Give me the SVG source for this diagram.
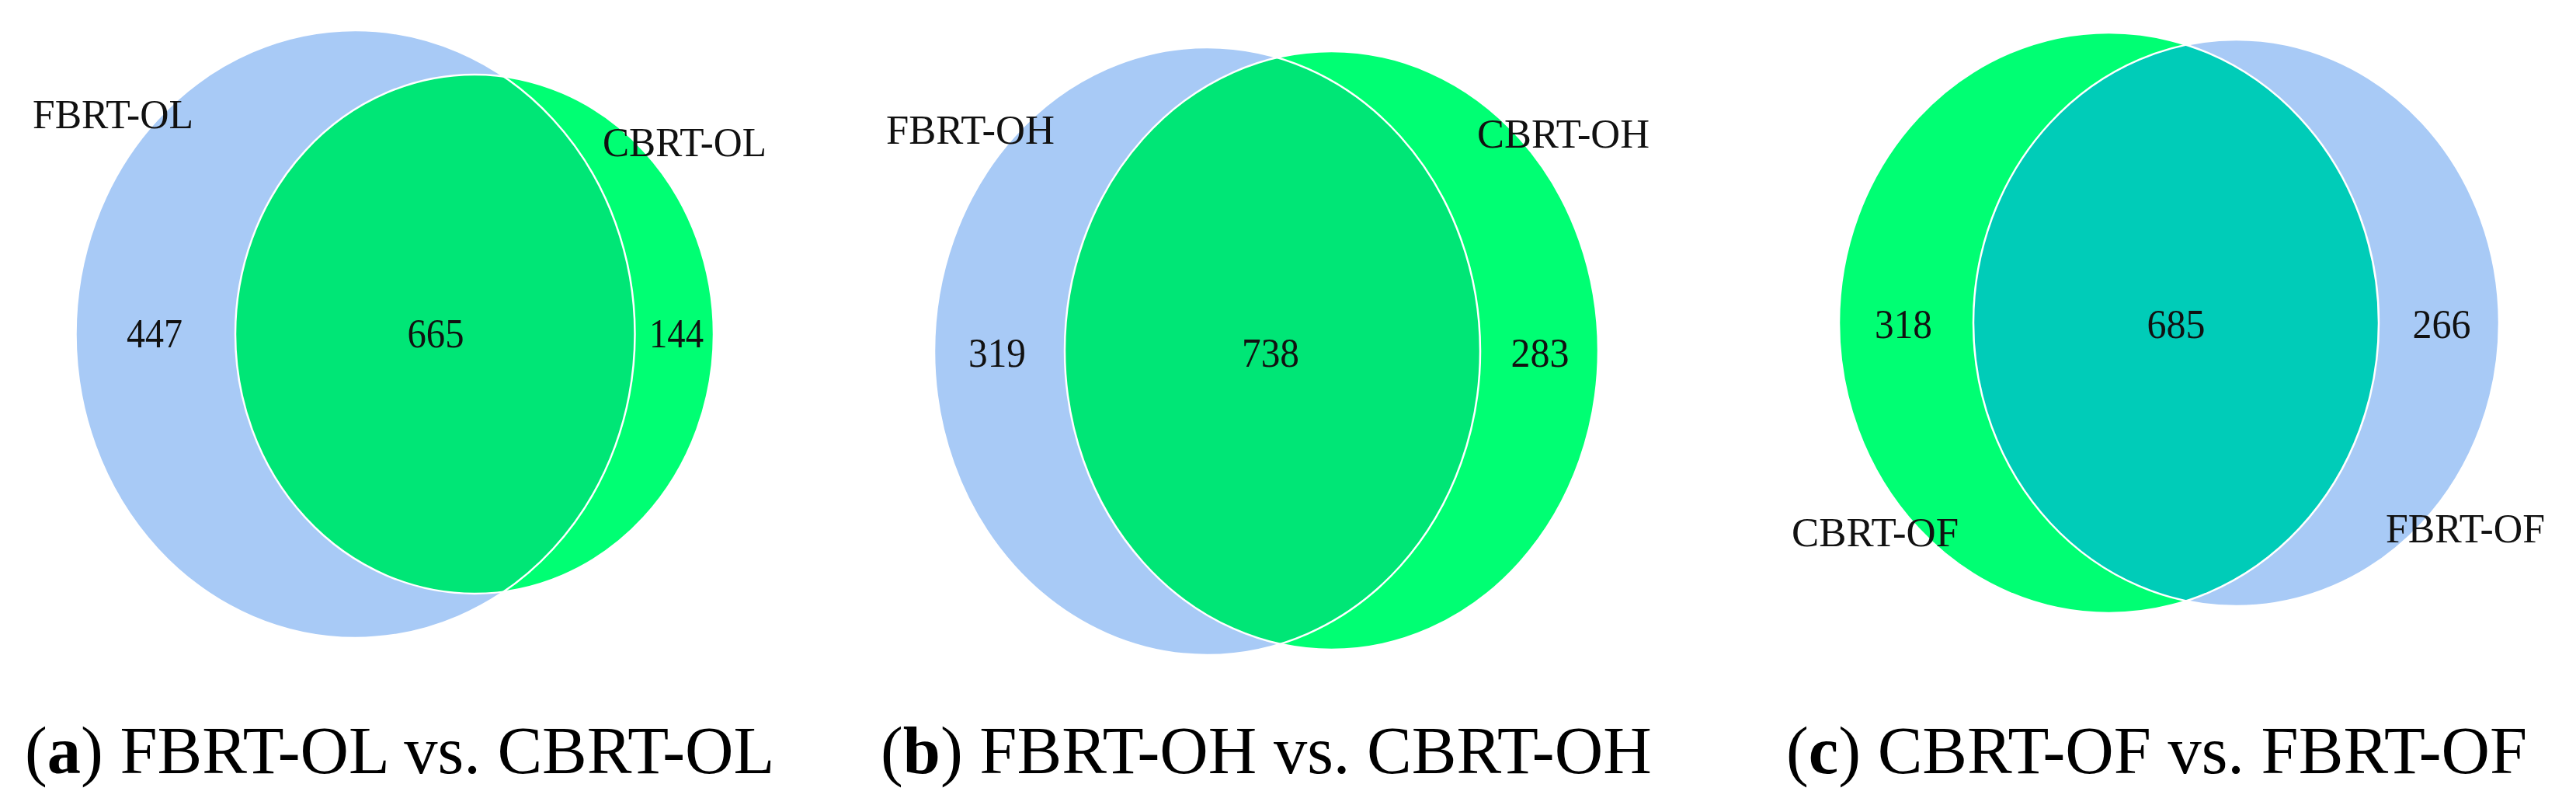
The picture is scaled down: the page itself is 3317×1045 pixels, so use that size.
<svg xmlns="http://www.w3.org/2000/svg" width="3317" height="1045" viewBox="0 0 3317 1045">
<style>
.blue{fill:#A8CAF6}
.green{fill:#00FF73}
.inter{fill:#00E676}
.teal{fill:#00CCB8}
.edge{fill:none;stroke:#FFFFFF;stroke-width:2.5}
.lbl{font-family:"Liberation Serif","Times New Roman",serif;font-size:53px;fill:#111111}
.num{font-family:"Liberation Serif","Times New Roman",serif;font-size:52px;fill:#111111;text-anchor:middle}
.cap{font-family:"Liberation Serif","Times New Roman",serif;font-size:86.5px;fill:#000000}
</style>
<defs>
<clipPath id="clipA"><ellipse cx="457.5" cy="430" rx="360" ry="391"/></clipPath>
<clipPath id="clipB"><ellipse cx="1554.5" cy="452" rx="351.5" ry="391"/></clipPath>
<clipPath id="clipC"><ellipse cx="2715.5" cy="415.5" rx="347.5" ry="373.5"/></clipPath>
</defs>

<g id="panel-a">
<g id="a-fbrt-ol">
<ellipse class="blue" cx="457.5" cy="430" rx="360" ry="391"/>
</g>
<g id="a-cbrt-ol">
<ellipse class="green" cx="611" cy="430" rx="308" ry="334"/>
</g>
<g id="a-overlap">
<ellipse class="inter" cx="611" cy="430" rx="308" ry="334" clip-path="url(#clipA)"/>
</g>
<g id="a-edges">
<ellipse class="edge" cx="457.5" cy="430" rx="360" ry="391"/>
<ellipse class="edge" cx="611" cy="430" rx="308" ry="334"/>
</g>
<text class="lbl" x="42" y="165" textLength="207" lengthAdjust="spacingAndGlyphs">FBRT-OL</text>
<text class="lbl" x="776" y="201" textLength="211" lengthAdjust="spacingAndGlyphs">CBRT-OL</text>
<text class="num" x="199" y="447" textLength="72" lengthAdjust="spacingAndGlyphs">447</text>
<text class="num" x="561" y="447" textLength="73" lengthAdjust="spacingAndGlyphs">665</text>
<text class="num" x="871" y="447" textLength="70" lengthAdjust="spacingAndGlyphs">144</text>
<text class="cap" x="32" y="995">(<tspan font-weight="bold">a</tspan>) FBRT-OL vs. CBRT-OL</text>
</g>

<g id="panel-b">
<g id="b-fbrt-oh">
<ellipse class="blue" cx="1554.5" cy="452" rx="351.5" ry="391"/>
</g>
<g id="b-cbrt-oh">
<ellipse class="green" cx="1714.5" cy="451" rx="343.5" ry="385"/>
</g>
<g id="b-overlap">
<ellipse class="inter" cx="1714.5" cy="451" rx="343.5" ry="385" clip-path="url(#clipB)"/>
</g>
<g id="b-edges">
<ellipse class="edge" cx="1554.5" cy="452" rx="351.5" ry="391"/>
<ellipse class="edge" cx="1714.5" cy="451" rx="343.5" ry="385"/>
</g>
<text class="lbl" x="1141" y="185" textLength="217" lengthAdjust="spacingAndGlyphs">FBRT-OH</text>
<text class="lbl" x="1902" y="190" textLength="222" lengthAdjust="spacingAndGlyphs">CBRT-OH</text>
<text class="num" x="1284" y="472" textLength="74" lengthAdjust="spacingAndGlyphs">319</text>
<text class="num" x="1636" y="472" textLength="74" lengthAdjust="spacingAndGlyphs">738</text>
<text class="num" x="1983" y="472" textLength="75" lengthAdjust="spacingAndGlyphs">283</text>
<text class="cap" x="1134" y="995">(<tspan font-weight="bold">b</tspan>) FBRT-OH vs. CBRT-OH</text>
</g>

<g id="panel-c">
<g id="c-cbrt-of">
<ellipse class="green" cx="2715.5" cy="415.5" rx="347.5" ry="373.5"/>
</g>
<g id="c-fbrt-of">
<ellipse class="blue" cx="2879.5" cy="415.5" rx="338.5" ry="364.5"/>
</g>
<g id="c-overlap">
<ellipse class="teal" cx="2879.5" cy="415.5" rx="338.5" ry="364.5" clip-path="url(#clipC)"/>
</g>
<g id="c-edges">
<ellipse class="edge" cx="2715.5" cy="415.5" rx="347.5" ry="373.5"/>
<ellipse class="edge" cx="2879.5" cy="415.5" rx="338.5" ry="364.5"/>
</g>
<text class="lbl" x="2307" y="703" textLength="215" lengthAdjust="spacingAndGlyphs">CBRT-OF</text>
<text class="lbl" x="3072" y="698" textLength="205" lengthAdjust="spacingAndGlyphs">FBRT-OF</text>
<text class="num" x="2451" y="435" textLength="74" lengthAdjust="spacingAndGlyphs">318</text>
<text class="num" x="2802" y="435" textLength="75" lengthAdjust="spacingAndGlyphs">685</text>
<text class="num" x="3144" y="435" textLength="75" lengthAdjust="spacingAndGlyphs">266</text>
<text class="cap" x="2300" y="995">(<tspan font-weight="bold">c</tspan>) CBRT-OF vs. FBRT-OF</text>
</g>

<g id="connectors"></g>
</svg>
